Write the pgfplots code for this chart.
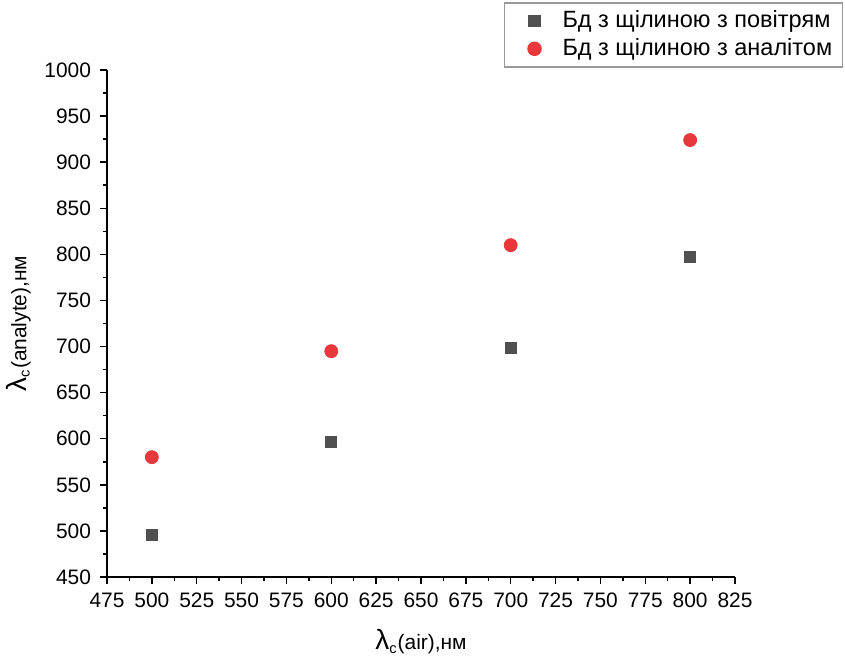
\documentclass[border=0pt]{standalone}
\usepackage{pgfplots}
\pgfplotsset{compat=1.18}
\usepackage{fontspec}
\setmainfont{Liberation Sans}
\definecolor{sq}{RGB}{80,80,80}
\definecolor{rd}{RGB}{232,56,60}
\begin{document}
\begin{tikzpicture}
\path[use as bounding box] (-53.5bp,-42bp) rectangle (369bp,288.5bp);
\begin{axis}[
  scale only axis, width=314bp, height=253.5bp,
  xmin=475, xmax=825, ymin=450, ymax=1000,
  axis lines=left,
  axis line style={-, line width=0.75bp},
  xtick={475,500,...,825}, ytick={450,500,...,1000},
  minor x tick num=1, minor y tick num=1,
  tick align=outside,
  major tick length=3.5bp, minor tick length=2bp,
  every tick/.style={black, line width=0.75bp},
  /pgf/number format/assume math mode=true,
  /pgf/number format/1000 sep={},
  tick label style={font=\fontsize{10.5}{12}\selectfont},
  xticklabel style={yshift=-1bp},
  yticklabel style={xshift=-1bp},
  xlabel={{\fontsize{14}{16}\selectfont λ}\textsubscript{c}(air),нм},
  ylabel={{\fontsize{14}{16}\selectfont λ}\textsubscript{c}(analyte),нм},
  xlabel style={yshift=-4bp},
  label style={font=\fontsize{10.5}{12}\selectfont},
  legend image code/.code={\path[draw=none,fill=none] (0bp,0bp) -- (24bp,0bp); \draw[#1] plot[only marks] coordinates {(12bp,0bp)};},
  legend style={at={(axis description cs:1.172,1.134)}, anchor=north east,
    draw=gray!80, line width=0.75bp, font=\fontsize{11.8}{14}\selectfont,
    cells={anchor=west}},
]
\addplot[only marks, mark=square*, mark size=2.75bp, color=sq] coordinates {
  (500,496) (600,597) (700,698) (800,797)};
\addlegendentry{Бд з щілиною з повітрям}
\addplot[only marks, mark=*, mark size=3.25bp, color=rd] coordinates {
  (500,580) (600,695) (700,810) (800,924)};
\addlegendentry{Бд з щілиною з аналітом}
\end{axis}
\end{tikzpicture}
\end{document}
